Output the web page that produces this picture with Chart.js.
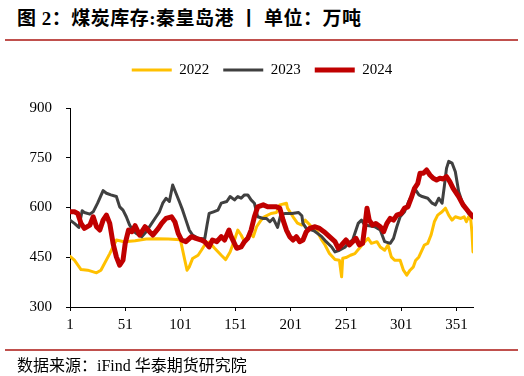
<!DOCTYPE html>
<html><head><meta charset="utf-8">
<script src="https://cdn.jsdelivr.net/npm/chart.js@4/dist/chart.umd.min.js"></script>
<style>
html,body{margin:0;padding:0;background:#fff;width:524px;height:376px;overflow:hidden;}
#wrap{position:relative;width:524px;height:376px;}
canvas{position:absolute;left:0;top:0;}
.title{position:absolute;left:17px;top:3px;font-family:"Liberation Serif","Noto Sans CJK SC",serif;font-weight:bold;font-size:19px;letter-spacing:0.5px;color:#000;white-space:pre;}
.rule{position:absolute;left:5px;width:513px;height:2px;background:#c0504d;}
.src{position:absolute;left:17px;top:352px;font-family:"Liberation Serif","Noto Sans CJK SC",serif;font-size:16px;color:#000;white-space:pre;}
</style></head>
<body><div id="wrap">
<div class="title">图 2：煤炭库存:秦皇岛港 丨 单位：万吨</div>
<div class="rule" style="top:39px"></div>
<canvas id="c" width="524" height="376"></canvas>
<div class="rule" style="top:349px"></div>
<div class="src">数据来源：iFind 华泰期货研究院</div>
</div>
<script>
const seriesNames = ["2022", "2023", "2024"];
const xTicks = [1, 51, 101, 151, 201, 251, 301, 351];
const yTicks = [300, 450, 600, 750, 900];

const days2022 = [1,5,11,17,25,29,37,43,50,60,70,80,90,101,105,107,109,112,117,120,123,127,132,138,142,146,150,153,156,159,164,167,170,174,177,183,188,191,197,198,203,207,211,214,219,225,229,232,236,241,245,247,248,251,255,259,264,268,271,274,279,282,286,289,292,295,300,303,306,309,312,314,317,322,325,328,331,334,338,341,344,347,350,355,358,360,362,364,365,366];
const vals2022 = [453,441,413,411,403,411,461,502,497,500,505,506,505,503,441,411,421,446,456,471,487,496,477,456,443,466,502,532,517,497,522,512,542,562,572,582,585,608,613,598,572,553,547,562,545,527,502,487,461,443,441,391,447,449,456,461,481,497,507,492,497,481,471,487,451,441,441,411,396,411,421,440,451,487,492,517,557,577,587,598,577,562,572,567,572,557,572,562,527,466];

const days2023 = [1,5,9,12,14,19,22,26,31,34,38,43,46,49,52,55,58,61,66,70,75,79,82,85,88,91,94,97,100,103,106,109,112,117,123,125,127,131,135,138,143,146,150,153,156,159,162,165,168,171,176,179,182,185,189,192,196,202,208,211,212,215,222,229,233,238,241,245,250,253,257,262,265,268,277,282,286,291,294,297,300,304,308,311,314,317,320,325,329,332,335,338,340,342,344,347,350,353,356,362,365,366];
const vals2023 = [562,552,540,590,585,580,587,613,651,643,638,633,602,592,572,547,530,522,512,527,552,572,587,613,628,618,668,643,618,592,562,532,517,507,505,545,582,587,592,613,618,633,623,633,628,638,638,623,613,572,567,567,557,567,540,580,582,582,585,575,552,537,530,512,497,481,466,471,480,492,502,552,562,547,542,532,497,492,507,542,572,587,620,640,653,638,633,628,613,608,628,613,663,718,739,734,708,648,618,582,572,570];

const days2024 = [1,5,8,11,14,19,22,25,28,31,34,37,40,43,46,49,51,54,57,60,64,69,73,76,81,84,88,93,96,99,102,106,111,115,120,123,127,130,134,138,141,145,147,152,156,159,162,165,168,171,176,180,185,188,191,194,197,200,203,206,209,212,215,218,223,227,231,236,241,244,247,251,254,257,260,263,266,268,270,272,275,278,282,285,288,291,294,297,301,304,307,310,313,316,318,321,324,327,330,333,336,339,342,345,348,353,357,362,366];
const vals2024 = [587,587,582,552,537,547,572,542,532,562,577,552,492,451,426,441,492,532,527,545,517,542,527,517,537,552,567,572,557,522,502,497,512,507,502,497,481,502,497,512,502,532,512,477,481,497,507,532,572,602,608,602,602,602,598,562,532,512,502,512,497,502,527,537,542,537,527,512,497,477,487,502,487,497,507,487,492,542,598,562,547,552,542,527,552,567,562,577,582,598,602,628,658,673,703,703,713,698,688,683,688,686,693,678,658,633,608,587,572];

const toPts = (d, v) => d.map((x, i) => ({x: x, y: v[i]}));

Chart.defaults.font.family = "'Liberation Serif','Times New Roman',serif";
Chart.defaults.font.size = 15;
Chart.defaults.color = '#000';

const legendHeight = {
  id: 'legendHeight',
  beforeInit(chart) {
    const f = chart.legend.fit;
    chart.legend.fit = function () { f.bind(chart.legend)(); this.height = 63.5; };
  }
};

new Chart(document.getElementById('c'), {
  type: 'line',
  data: {
    datasets: [
      {label: seriesNames[0], data: toPts(days2022, vals2022), borderColor: '#FFC000', backgroundColor: '#FFC000', borderWidth: 3, order: 2},
      {label: seriesNames[1], data: toPts(days2023, vals2023), borderColor: '#404040', backgroundColor: '#404040', borderWidth: 3, order: 1},
      {label: seriesNames[2], data: toPts(days2024, vals2024), borderColor: '#C00000', backgroundColor: '#C00000', borderWidth: 5, order: 0}
    ]
  },
  options: {
    responsive: false,
    animation: false,
    devicePixelRatio: 1,
    elements: {point: {radius: 0}, line: {tension: 0, borderJoinStyle: 'round', borderCapStyle: 'round'}},
    layout: {padding: {top: 48.5, left: 0, right: 0, bottom: 39}},
    plugins: {
      tooltip: {enabled: false},
      legend: {
        position: 'top',
        labels: {usePointStyle: true, pointStyle: 'line', pointStyleWidth: 40, padding: 14,
          sort: (a, b) => a.datasetIndex - b.datasetIndex, font: {size: 15}, color: '#000'}
      }
    },
    scales: {
      x: {
        type: 'linear', min: 1, max: 366,
        afterBuildTicks: s => { s.ticks = xTicks.map(v => ({value: v})); },
        afterFit: s => { s.height = 30; },
        border: {display: true, color: '#000', width: 1},
        grid: {display: true, drawOnChartArea: false, drawTicks: true, tickLength: 4, color: '#000'},
        ticks: {padding: 5, autoSkip: false, maxRotation: 0, font: {size: 15}, color: '#000'}
      },
      y: {
        min: 300, max: 900,
        afterBuildTicks: s => { s.ticks = yTicks.map(v => ({value: v})); },
        afterFit: s => { s.width = 70; },
        border: {display: true, color: '#000', width: 1},
        grid: {display: true, drawOnChartArea: false, drawTicks: true, tickLength: 4, color: '#000'},
        ticks: {padding: 14, font: {size: 15}, color: '#000'}
      },
      yPad: {
        type: 'linear', position: 'right', display: true,
        afterFit: s => { s.width = 51; },
        border: {display: false},
        grid: {display: false, drawTicks: false},
        ticks: {display: false}
      }
    }
  },
  plugins: [{
    id: 'legendHeight',
    beforeInit(chart) {
      const f = chart.legend.fit;
      chart.legend.fit = function () { f.bind(chart.legend)(); this.height = 59.5; };
    }
  }]
});
</script>
</body></html>
